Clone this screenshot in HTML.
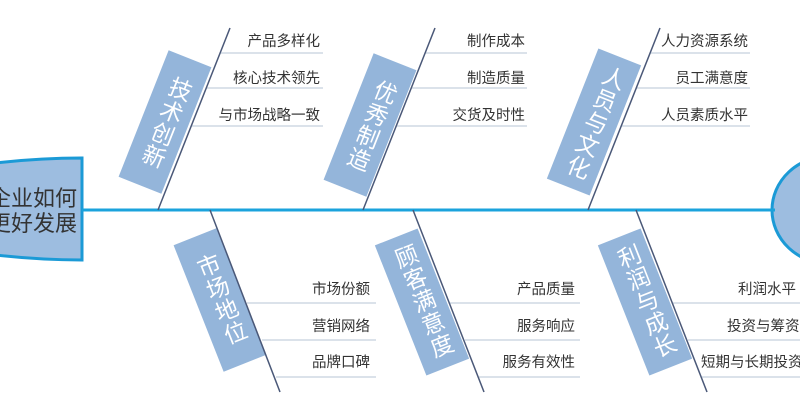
<!DOCTYPE html>
<html><head><meta charset="utf-8"><style>
body{margin:0;width:800px;height:420px;overflow:hidden;background:#fff;position:relative;font-family:"Liberation Sans","Noto Sans CJK SC",sans-serif}
svg{position:absolute;left:0;top:0}
.b{position:absolute;width:46px;height:136px;background:#94b5da;color:#fff;font-size:23px;line-height:27px;display:flex;align-items:center;justify-content:center;writing-mode:vertical-rl;letter-spacing:1px}
.t{position:absolute;font-size:14.5px;color:#333;text-align:right;white-space:nowrap;line-height:18px}
.h{position:absolute;font-size:22px;color:#333;line-height:25px;white-space:nowrap}
</style></head><body>
<svg width="800" height="420">
<path d="M-5,163 Q40,158 82,158 L82,260 Q40,260 -5,255 Z" fill="#9dbde0" stroke="#1b9ad6" stroke-width="3"/>
<ellipse cx="830" cy="210" rx="58" ry="54" fill="#9dbde0" stroke="#1b9ad6" stroke-width="3"/>
<line x1="82" y1="210" x2="775" y2="210" stroke="#1ba3dc" stroke-width="3"/>
<g stroke="#b7c6d6" stroke-width="1">
<line x1="220" y1="53" x2="323" y2="53"/><line x1="206" y1="88" x2="323" y2="88"/><line x1="192" y1="126" x2="323" y2="126"/>
<line x1="425" y1="53" x2="527" y2="53"/><line x1="411" y1="88" x2="527" y2="88"/><line x1="396" y1="126" x2="527" y2="126"/>
<line x1="650" y1="53" x2="750" y2="53"/><line x1="636" y1="88" x2="750" y2="88"/><line x1="621" y1="126" x2="750" y2="126"/>
<line x1="247" y1="303" x2="376" y2="303"/><line x1="262" y1="340" x2="376" y2="340"/><line x1="276" y1="377" x2="376" y2="377"/>
<line x1="450" y1="303" x2="580" y2="303"/><line x1="465" y1="340" x2="580" y2="340"/><line x1="479" y1="377" x2="580" y2="377"/>
<line x1="673" y1="303" x2="800" y2="303"/><line x1="688" y1="340" x2="800" y2="340"/><line x1="702" y1="377" x2="800" y2="377"/>
</g>
</svg>
<div class="b" style="left:142px;top:54px;transform:rotate(21.6deg)">技术创新</div>
<div class="b" style="left:347px;top:57px;transform:rotate(21.6deg)">优秀制造</div>
<div class="b" style="left:571px;top:52px;transform:rotate(21.6deg);height:140px">人员与文化</div>
<div class="b" style="left:197px;top:232px;transform:rotate(-21.6deg)">市场地位</div>
<div class="b" style="left:399px;top:232px;transform:rotate(-21.6deg);height:140px">顾客满意度</div>
<div class="b" style="left:622px;top:232px;transform:rotate(-21.6deg);height:140px">利润与成长</div>
<svg width="800" height="420">
<g stroke="#4a5878" stroke-width="1.5">
<line x1="158" y1="210" x2="230" y2="28"/><line x1="363" y1="210" x2="435" y2="28"/><line x1="588" y1="210" x2="660" y2="28"/>
<line x1="210" y1="210" x2="280" y2="392"/><line x1="413" y1="210" x2="484" y2="392"/><line x1="636" y1="210" x2="707" y2="392"/>
</g>
</svg>
<div class="h" style="left:-11px;top:186px">企业如何<br>更好发展</div>
<div class="t" style="right:480px;top:33px">产品多样化</div>
<div class="t" style="right:480px;top:70px">核心技术领先</div>
<div class="t" style="right:480px;top:107px">与市场战略一致</div>
<div class="t" style="right:275px;top:33px">制作成本</div>
<div class="t" style="right:275px;top:70px">制造质量</div>
<div class="t" style="right:275px;top:107px">交货及时性</div>
<div class="t" style="right:52px;top:33px">人力资源系统</div>
<div class="t" style="right:52px;top:70px">员工满意度</div>
<div class="t" style="right:52px;top:107px">人员素质水平</div>
<div class="t" style="right:430px;top:281px">市场份额</div>
<div class="t" style="right:430px;top:318px">营销网络</div>
<div class="t" style="right:430px;top:354px">品牌口碑</div>
<div class="t" style="right:225px;top:281px">产品质量</div>
<div class="t" style="right:225px;top:318px">服务响应</div>
<div class="t" style="right:225px;top:354px">服务有效性</div>
<div class="t" style="left:738px;top:281px;text-align:left">利润水平</div>
<div class="t" style="left:727px;top:318px;text-align:left">投资与筹资</div>
<div class="t" style="left:701px;top:354px;text-align:left">短期与长期投资</div>
</body></html>
